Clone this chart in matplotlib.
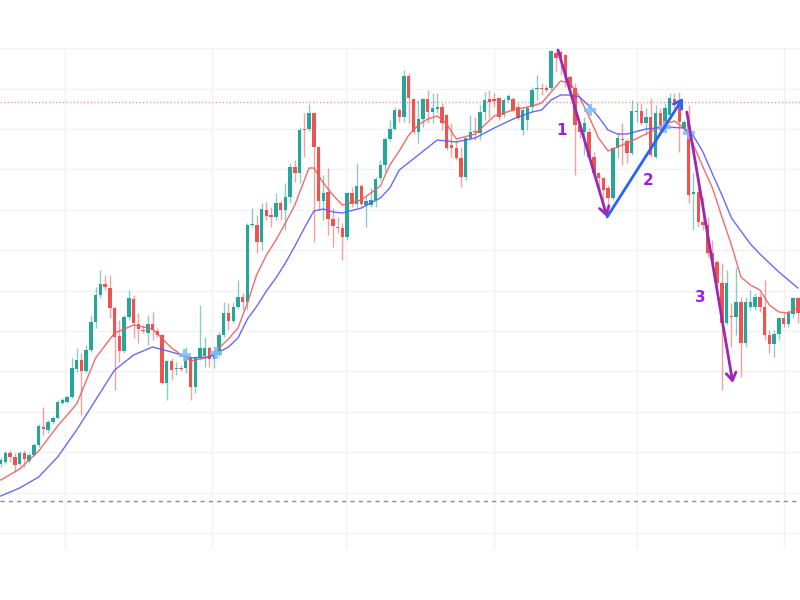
import numpy as np
import matplotlib
matplotlib.use("Agg")
import matplotlib.pyplot as plt
from matplotlib.ticker import MultipleLocator

# ---- candle data (price points) ----
opens = [69,71,80,76,69,80,72,78,88,106,103,111,115,130,131,136,164,173,162,183,
         211,238,249,245,225,197,182,216,234,209,203,200,209,202,198,150,172,164,165,165,
         175,146,176,177,185,174,178,198,220,212,226,236,231,308,308,291,323,318,316,330,
         323,336,366,360,404,404,420,386,332,341,314,306,305,296,340,329,347,328,328,333,
         355,368,394,404,423,416,457,434,401,414,434,421,424,426,418,388,385,375,356,395,
         402,400,421,434,434,435,418,433,434,426,403,413,426,444,445,445,445,480,481,478,
         456,445,408,401,401,376,360,355,345,335,385,394,392,380,421,422,410,416,376,420,
         410,418,434,431,405,411,339,341,311,308,280,271,250,210,217,216,231,190,226,226,
         236,226,198,189,199,215,209,219,235]
closes = [73,80,76,68,80,74,78,88,107,104,111,115,131,133,136,165,173,162,183,211,
          238,249,246,225,196,182,216,235,210,204,202,209,203,198,150,172,163,165,164,178,
          146,175,185,185,174,178,198,220,212,226,236,231,308,309,291,324,317,316,330,323,
          336,366,360,403,403,420,386,332,340,314,307,305,296,340,329,347,329,332,333,354,
          368,394,404,423,416,457,435,401,414,434,421,425,426,410,385,385,375,356,395,401,
          401,421,433,431,432,416,433,437,423,415,423,425,443,445,444,443,482,475,476,456,
          445,408,401,410,376,360,355,343,335,385,395,393,380,422,422,410,416,378,420,403,
          425,435,428,411,411,338,341,311,308,280,271,250,210,250,216,231,190,231,231,236,
          226,198,189,199,215,209,220,235,220]
highs = [76,82,83,80,82,83,80,90,109,126,113,117,133,135,138,175,185,180,188,218,
         246,263,258,258,227,213,218,243,238,220,208,218,221,205,199,173,175,171,168,186,
         177,177,228,196,187,185,201,231,230,231,253,240,310,325,318,330,331,326,340,333,
         350,370,373,406,420,429,421,387,358,365,325,316,310,341,346,370,349,337,345,356,
         373,396,413,426,425,463,460,435,433,435,443,440,440,430,419,410,393,386,396,418,
         416,428,441,443,440,436,435,439,436,430,425,427,446,458,450,448,483,482,483,479,
         458,450,411,416,405,381,361,356,348,386,400,410,395,433,430,430,425,435,428,425,
         430,440,440,441,413,428,360,351,336,316,293,273,270,263,230,266,236,236,243,240,
         240,253,203,203,216,220,223,236,236]
lows = [66,69,71,61,67,66,70,77,86,98,100,109,114,129,130,135,161,118,160,181,
        205,235,243,215,143,171,180,213,195,190,200,188,193,196,149,133,153,158,162,160,
        133,140,173,166,166,165,176,196,203,210,224,223,223,306,280,283,313,306,313,313,
        303,330,351,350,376,402,291,323,313,298,286,300,273,293,326,326,327,306,326,326,
        353,361,392,403,411,411,410,399,390,406,410,410,420,403,383,376,373,346,353,393,
        393,393,413,415,426,413,416,431,421,413,398,403,421,433,438,441,443,461,458,446,
        441,358,395,378,373,355,340,321,318,333,375,368,370,378,411,408,398,376,375,398,
        406,416,425,381,403,330,303,306,303,276,266,246,143,208,186,198,156,186,223,223,
        221,193,180,176,193,206,206,215,210]

# ---- moving averages (candle index, value) ----
ma_fast_idx = [0,4,8,12,16,20,24,28,32,36,40,44,48,50,52,54,56,58,60,62,64,65,66,68,70,72,
               76,80,82,84,86,88,90,92,94,96,100,104,108,112,114,116,118,120,122,124,126,128,
               130,132,136,140,142,144,146,148,150,152,154,156,158,160,162,164,166,168]
ma_fast = [53,64,82,107,129,175,200,208,204,185,172,176,194,205,230,259,278,293,310,328,353,365,
           365,350,338,328,333,347,368,382,398,408,414,417,409,394,399,417,423,427,430,441,452,
           450,436,416,395,382,386,390,399,409,412,405,388,366,345,316,288,256,248,243,228,221,
           220,225]
ma_slow_idx = [0,4,8,12,16,20,24,28,32,36,40,44,48,50,52,54,56,58,60,62,64,66,68,70,72,76,80,
               82,84,88,92,96,100,104,108,112,114,116,118,120,122,124,126,128,130,132,136,140,
               144,146,148,150,152,154,156,158,160,164,168]
ma_slow = [37,45,56,76,103,133,163,178,186,181,175,176,186,195,214,227,242,255,270,287,305,322,
           324,321,320,325,335,345,363,378,393,391,395,405,414,421,423,433,438,438,436,427,416,
           403,399,399,404,406,405,397,381,359,338,315,302,289,279,261,245]

cross_idx = [38.8, 45.4, 124.2, 140.0, 145.1]
cross_val = [178, 180, 423, 406, 400]

resistance = 431.5
support = 32

swing_idx = [117.45, 127.8, 143.8, 144.6, 154.3]
swing_val = [483, 316, 435, 421, 150]
labels = ["1", "2", "3"]
label_idx = [118.3, 136.4, 147.4]
label_val = [403, 353, 235]

vgrid = [13.55, 44.5, 72.8, 104.0, 134.1, 165.1]

# ---- figure ----
fig = plt.figure(figsize=(8, 6), dpi=100)
ax = fig.add_axes([0, 51/600, 1, 501/600])
ax.set_xlim(-0.15, 168.45)
ax.set_ylim(-16, 485)
for s in ax.spines.values():
    s.set_visible(False)
ax.yaxis.set_major_locator(MultipleLocator(40.4))
ax.set_xticks(vgrid)
ax.tick_params(left=False, bottom=False, labelleft=False, labelbottom=False)
ax.grid(True, color="#f0f2f5", lw=1, zorder=0)
ax.set_axisbelow(True)

ax.axhline(resistance, color="#f08080", lw=1, ls=(0, (1, 1.5)), alpha=0.8, zorder=1)
ax.axhline(support, color="#8a8a8a", lw=1, ls=(0, (3, 3)), zorder=1)

o = np.array(opens, float); c = np.array(closes, float)
h = np.array(highs, float); l = np.array(lows, float)
x = np.arange(len(o))
up = c >= o
col = np.where(up, "#26a69a", "#ef5350")
ax.vlines(x, l, h, colors=col, lw=1, alpha=0.55, zorder=2)
bottom = np.minimum(o, c)
height = np.maximum(np.abs(c - o), 1.2)
ax.bar(x, height, bottom=bottom, width=0.72, color=col, lw=0, zorder=3)

ax.plot(ma_fast_idx, ma_fast, color="#f25c5c", lw=1.0, alpha=0.9, zorder=4)
ax.plot(ma_slow_idx, ma_slow, color="#5a5af5", lw=1.0, alpha=0.9, zorder=4)

ax.plot(cross_idx, cross_val, ls="none", marker="P", ms=9, color="#7ec0f5",
        alpha=0.85, mew=0, zorder=5)

def arrow(i0, i1, color):
    ax.annotate("", xy=(swing_idx[i1], swing_val[i1]), xytext=(swing_idx[i0], swing_val[i0]),
                arrowprops=dict(arrowstyle="->,head_length=0.55,head_width=0.35",
                                color=color, lw=2, shrinkA=0, shrinkB=0), zorder=6)

arrow(0, 1, "#9c27b0")
arrow(1, 2, "#2962ff")
arrow(3, 4, "#9c27b0")

for t, xi, yv in zip(labels, label_idx, label_val):
    ax.text(xi, yv, t, color="#9c1fe0", fontsize=11, fontweight="bold",
            ha="center", va="center", zorder=7)

fig.savefig("out.png", dpi=100)
